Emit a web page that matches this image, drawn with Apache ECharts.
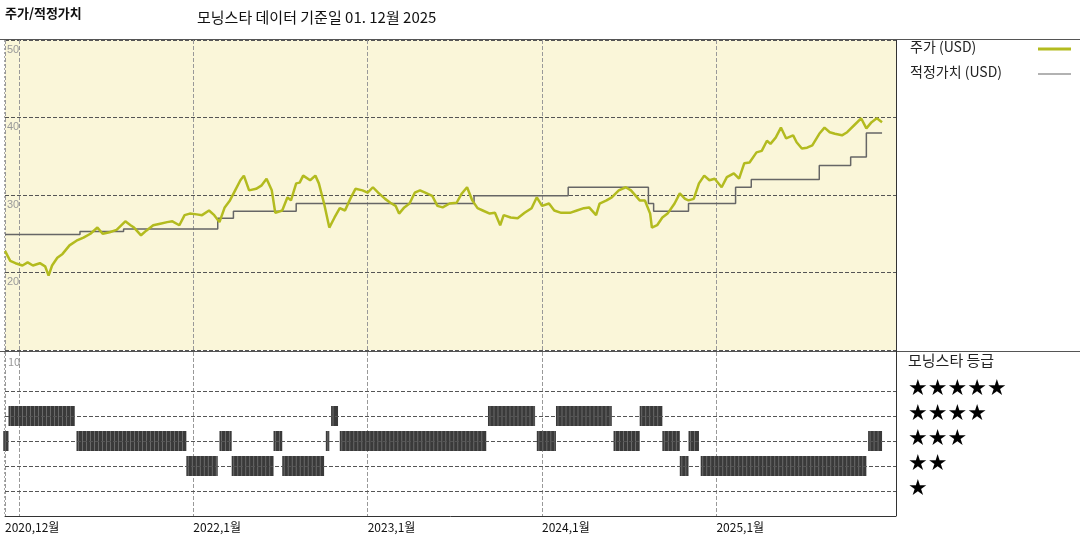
<!DOCTYPE html>
<html><head><meta charset="utf-8">
<script src="https://cdn.jsdelivr.net/npm/echarts@6/dist/echarts.min.js"></script>
<style>html,body{margin:0;padding:0;background:#fff}#c{width:1080px;height:540px}</style>
</head><body><div id="c"></div>
<script>
const priceYears=[2020.92,2020.95,2020.98,2021.02,2021.05,2021.08,2021.12,2021.15,2021.17,2021.19,2021.22,2021.25,2021.29,2021.33,2021.37,2021.41,2021.45,2021.48,2021.52,2021.56,2021.61,2021.64,2021.66,2021.70,2021.73,2021.77,2021.81,2021.85,2021.88,2021.92,2021.95,2021.98,2022.02,2022.05,2022.09,2022.12,2022.15,2022.18,2022.21,2022.24,2022.27,2022.29,2022.32,2022.36,2022.39,2022.42,2022.45,2022.47,2022.51,2022.54,2022.56,2022.59,2022.61,2022.63,2022.67,2022.70,2022.72,2022.75,2022.78,2022.81,2022.84,2022.87,2022.90,2022.93,2022.97,2023.00,2023.03,2023.06,2023.10,2023.13,2023.16,2023.18,2023.21,2023.24,2023.27,2023.30,2023.33,2023.37,2023.40,2023.43,2023.47,2023.51,2023.54,2023.57,2023.60,2023.63,2023.66,2023.70,2023.73,2023.76,2023.78,2023.82,2023.86,2023.90,2023.94,2023.97,2024.00,2024.04,2024.07,2024.11,2024.16,2024.20,2024.24,2024.27,2024.31,2024.33,2024.37,2024.40,2024.44,2024.48,2024.51,2024.56,2024.59,2024.62,2024.63,2024.66,2024.69,2024.72,2024.76,2024.79,2024.82,2024.84,2024.87,2024.90,2024.93,2024.96,2024.99,2025.03,2025.06,2025.10,2025.13,2025.16,2025.19,2025.23,2025.26,2025.29,2025.31,2025.34,2025.37,2025.40,2025.44,2025.46,2025.49,2025.52,2025.55,2025.59,2025.62,2025.65,2025.68,2025.72,2025.75,2025.79,2025.83,2025.86,2025.89,2025.92,2025.95];
const priceValues=[22.8,21.5,21.2,20.9,21.3,20.9,21.2,20.8,19.6,20.9,21.9,22.4,23.5,24.1,24.5,25.0,25.8,25.0,25.2,25.5,26.6,26.1,25.8,24.8,25.4,26.1,26.3,26.5,26.6,26.1,27.4,27.6,27.5,27.4,28.0,27.4,26.5,28.4,29.3,30.6,31.9,32.5,30.6,30.8,31.2,32.1,30.6,27.7,28.0,29.7,29.3,31.5,31.6,32.5,31.9,32.5,31.5,28.9,25.8,27.1,28.3,28.0,29.5,30.8,30.6,30.3,31.0,30.3,29.5,29.0,28.6,27.6,28.4,28.9,30.3,30.6,30.3,29.9,28.6,28.4,28.9,29.0,30.2,31.0,29.3,28.3,28.0,27.6,27.7,26.1,27.4,27.1,27.0,27.7,28.3,29.7,28.6,28.9,28.0,27.7,27.7,28.0,28.3,28.4,27.4,28.9,29.3,29.7,30.6,31.0,30.6,29.3,29.3,27.6,25.8,26.1,27.1,27.6,28.9,30.2,29.5,29.3,29.5,31.5,32.5,31.9,32.1,31.0,32.3,32.8,32.1,34.1,34.2,35.5,35.7,37.0,36.6,37.4,38.7,37.3,37.7,36.8,36.0,36.1,36.4,37.9,38.7,38.1,37.9,37.7,38.1,39.0,39.9,38.6,39.4,39.9,39.4];
const fairYears=[2020.92,2021.35,2021.60,2022.14,2022.23,2022.59,2023.61,2024.15,2024.61,2024.64,2024.84,2025.11,2025.20,2025.59,2025.77,2025.86,2025.95];
const fairValues=[24.9,25.3,25.6,27.0,27.9,28.9,29.9,31.0,28.9,27.9,28.9,31.0,32.0,33.8,34.9,38.0,38.0];
const ratingStart=[2020.91,2020.94,2021.33,2021.96,2022.15,2022.22,2022.46,2022.51,2022.76,2022.79,2022.84,2023.69,2023.97,2024.08,2024.41,2024.56,2024.69,2024.79,2024.84,2024.91,2025.87];
const ratingEnd=[2020.94,2021.32,2021.96,2022.14,2022.22,2022.46,2022.51,2022.75,2022.78,2022.83,2023.68,2023.96,2024.08,2024.40,2024.56,2024.69,2024.79,2024.84,2024.90,2025.86,2025.95];
const ratingStars=[3,4,3,2,3,2,3,2,3,4,3,4,3,4,3,4,3,2,3,2,3];
const ratingLevels=[1,2,3,4,5];
const xTickValues=[2020.92,2021,2022,2023,2024,2025];
const xTickLabels=['2020,12월','2021,1월','2022,1월','2023,1월','2024,1월','2025,1월'];
const starLabels=['★★★★★','★★★★','★★★','★★','★'];

const F='"Noto Sans CJK KR", sans-serif';
const XMIN=2020.92, XMAX=2026.03;
const chart=echarts.init(document.getElementById('c'));
const vLine={show:true,lineStyle:{color:'#999',type:'dashed',width:1}};
chart.setOption({
  animation:false,
  grid:[{left:5,right:184,top:40,height:310,backgroundColor:'#faf6d9',show:true,borderWidth:0},
        {left:5,right:184,top:352,height:164,show:false}],
  xAxis:[
    {type:'value',gridIndex:0,min:XMIN,max:XMAX,axisLine:{show:false},axisTick:{show:false,customValues:xTickValues},
     axisLabel:{show:false},splitLine:vLine},
    {type:'value',gridIndex:1,min:XMIN,max:XMAX,axisLine:{show:true,lineStyle:{color:'#333'}},
     axisTick:{show:false,customValues:xTickValues},splitLine:vLine,
     axisLabel:{customValues:xTickValues,showMinLabel:true,hideOverlap:false,align:'left',margin:5,color:'#111',fontSize:12,fontFamily:F,
       formatter:v=>{const i=xTickValues.findIndex(t=>Math.abs(t-v)<1e-6);return i>=0?xTickLabels[i]:'';}}}
  ],
  yAxis:[
    {type:'value',gridIndex:0,min:10,max:50,interval:10,axisLine:{show:false},axisTick:{show:false},
     axisLabel:{inside:true,color:'#999',fontSize:11,verticalAlign:'top',padding:[4,0,0,0],margin:2,formatter:v=>(v>10?v:'')},
     splitLine:{show:true,lineStyle:{color:'#555',type:'dashed'}}},
    {type:'value',gridIndex:1,min:0,max:6.56,axisLine:{show:false},axisTick:{show:false},
     axisLabel:{show:false},splitLine:{show:false}}
  ],
  series:[
    {type:'line',xAxisIndex:0,yAxisIndex:0,step:'end',showSymbol:false,data:fairYears.map((x,i)=>[x,fairValues[i]]),
     lineStyle:{color:'#666',width:1.5}},
    {type:'line',xAxisIndex:0,yAxisIndex:0,showSymbol:false,data:priceYears.map((x,i)=>[x,priceValues[i]]),
     lineStyle:{color:'#b3bb1f',width:2.5}},
    {type:'custom',xAxisIndex:1,yAxisIndex:1,data:ratingStars.map((s,i)=>[ratingStart[i],ratingEnd[i],s]),
     markLine:{silent:true,symbol:'none',label:{show:false},lineStyle:{color:'#555',type:'dashed',width:1},
       data:ratingLevels.map(v=>({yAxis:v}))},
     renderItem:(p,api)=>{
       const a=api.coord([api.value(0),api.value(2)]), b=api.coord([api.value(1),api.value(2)]);
       const children=[{type:'rect',shape:{x:a[0],y:a[1]-10,width:Math.max(b[0]-a[0],2),height:20},style:{fill:'#3a3a3a'}}];
       for(let x=a[0]+2;x<b[0]-1;x+=4){children.push({type:'line',shape:{x1:x,y1:a[1]-10,x2:x,y2:a[1]+10},style:{stroke:'#777',lineWidth:0.8}});}
       return {type:'group',children};
     }}
  ],
  graphic:[
    {type:'text',left:5,top:7,style:{text:'주가/적정가치',font:'bold 13px '+F,fill:'#111'}},
    {type:'text',left:197,top:10,style:{text:'모닝스타 데이터 기준일 01. 12월 2025',font:'15px '+F,fill:'#111'}},
    {type:'line',shape:{x1:0,y1:39.5,x2:1080,y2:39.5},style:{stroke:'#555',lineWidth:1}},
    {type:'line',shape:{x1:0,y1:351.5,x2:1080,y2:351.5},style:{stroke:'#555',lineWidth:1}},
    {type:'line',shape:{x1:896.5,y1:40,x2:896.5,y2:516},style:{stroke:'#333',lineWidth:1}},
    {type:'line',shape:{x1:4.5,y1:40,x2:4.5,y2:516},style:{stroke:'#aaa',lineWidth:1,lineDash:[2,2]}},
    {type:'text',left:8,top:356,style:{text:'10',font:'11px '+F,fill:'#999'}},
    {type:'text',left:910,top:40,style:{text:'주가 (USD)',font:'14px '+F,fill:'#222'}},
    {type:'line',shape:{x1:1038,y1:49,x2:1071,y2:49},style:{stroke:'#b3bb1f',lineWidth:3}},
    {type:'text',left:910,top:65,style:{text:'적정가치 (USD)',font:'14px '+F,fill:'#222'}},
    {type:'line',shape:{x1:1038,y1:74,x2:1071,y2:74},style:{stroke:'#666',lineWidth:1.2}},
    {type:'text',left:908,top:353,style:{text:'모닝스타 등급',font:'15px '+F,fill:'#222'}},
    ...starLabels.map((s,i)=>({type:'text',left:908,top:378+i*25,style:{text:s,font:'22px "DejaVu Sans"',fill:'#000'}}))
  ]
});
</script></body></html>
